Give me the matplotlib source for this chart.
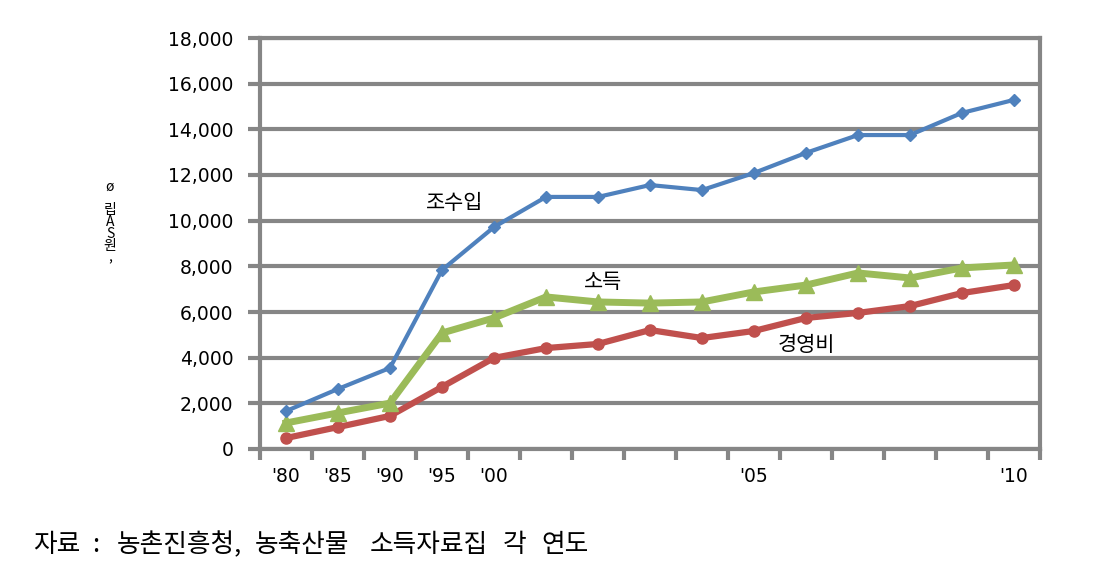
import matplotlib
matplotlib.use("Agg")
import matplotlib.pyplot as plt
from matplotlib.ticker import FixedLocator, NullFormatter, FuncFormatter

plt.rcParams['font.family'] = ['DejaVu Sans', 'Noto Sans CJK KR']

# data (천원)
years = ["'80", "'85", "'90", "'95", "'00", "'01", "'02", "'03", "'04",
         "'05", "'06", "'07", "'08", "'09", "'10"]
shown = ["'80", "'85", "'90", "'95", "'00", "", "", "", "",
         "'05", "", "", "", "", "'10"]
gross = [1660, 2630, 3550, 7840, 9720, 11040, 11040, 11560, 11340,
         12090, 12970, 13750, 13750, 14720, 15290]
income = [1140, 1580, 2010, 5080, 5740, 6660, 6440, 6390, 6440,
          6880, 7180, 7710, 7490, 7930, 8060]
cost = [480, 960, 1450, 2720, 3990, 4420, 4600, 5210, 4860,
        5170, 5740, 5960, 6260, 6830, 7180]

# source note, word by word (start x in pixels)
note_words = ['자료', ':', '농촌진흥청,', '농축산물', '소득자료집', '각', '연도']
note_x = [33, 92, 117, 255, 370, 503, 541]

GRID = '#868686'
KR = ['Noto Sans CJK KR', 'DejaVu Sans']
W, H = 1102, 582

fig = plt.figure(figsize=(W / 100, H / 100), dpi=100)
ax = fig.add_axes([260/W, 1-449/H, 780/W, 411/H])

x = list(range(len(years)))
ax.plot(x, gross, color='#4F81BD', lw=3, marker='D', ms=6.5, zorder=4)
ax.plot(x, cost, color='#C0504D', lw=4.5, marker='o', ms=8, zorder=3)
ax.plot(x, income, color='#9BBB59', lw=5, marker='^', ms=11, zorder=3)

ax.set_xlim(-0.5, len(years) - 0.5)
ax.set_ylim(0, 18000)
ax.set_yticks(range(0, 18001, 2000))
ax.yaxis.set_major_formatter(FuncFormatter(lambda v, p: f'{int(v):,}'))
ax.grid(axis='y', color=GRID, lw=3)
ax.set_axisbelow(True)

# category axis: ticks between categories, labels at centres
ax.xaxis.set_major_locator(FixedLocator([i - 0.5 for i in range(len(years) + 1)]))
ax.xaxis.set_major_formatter(NullFormatter())
ax.xaxis.set_minor_locator(FixedLocator(x))
ax.set_xticklabels(shown, minor=True)
ax.tick_params(axis='x', which='major', length=8, width=3, color=GRID, direction='out')
ax.tick_params(axis='x', which='minor', length=0, pad=13, labelsize=13.5)
ax.tick_params(axis='y', length=9, width=3, color=GRID, pad=10, labelsize=13.5)

for s in ax.spines.values():
    s.set_color(GRID)
    s.set_linewidth(3)

ax.text(3.25, 10780, '조수입', family=KR, fontsize=15, ha='center', va='center')
ax.text(6.1, 7310, '소득', family=KR, fontsize=15, ha='center', va='center')
ax.text(10.0, 4560, '경영비', family=KR, fontsize=15, ha='center', va='center')

# garbled unit label as it appears in the source
fig.text(110/W, 1-222/H, 'ø\n\n립\nA\nS\n원\n,', family=KR, fontsize=10,
         ha='center', va='center', linespacing=0.8)

for word, px in zip(note_words, note_x):
    fig.text(px/W, 1-545/H, word, family=KR, fontsize=18.5, ha='left', va='center')

fig.savefig('out.png', dpi=100)
